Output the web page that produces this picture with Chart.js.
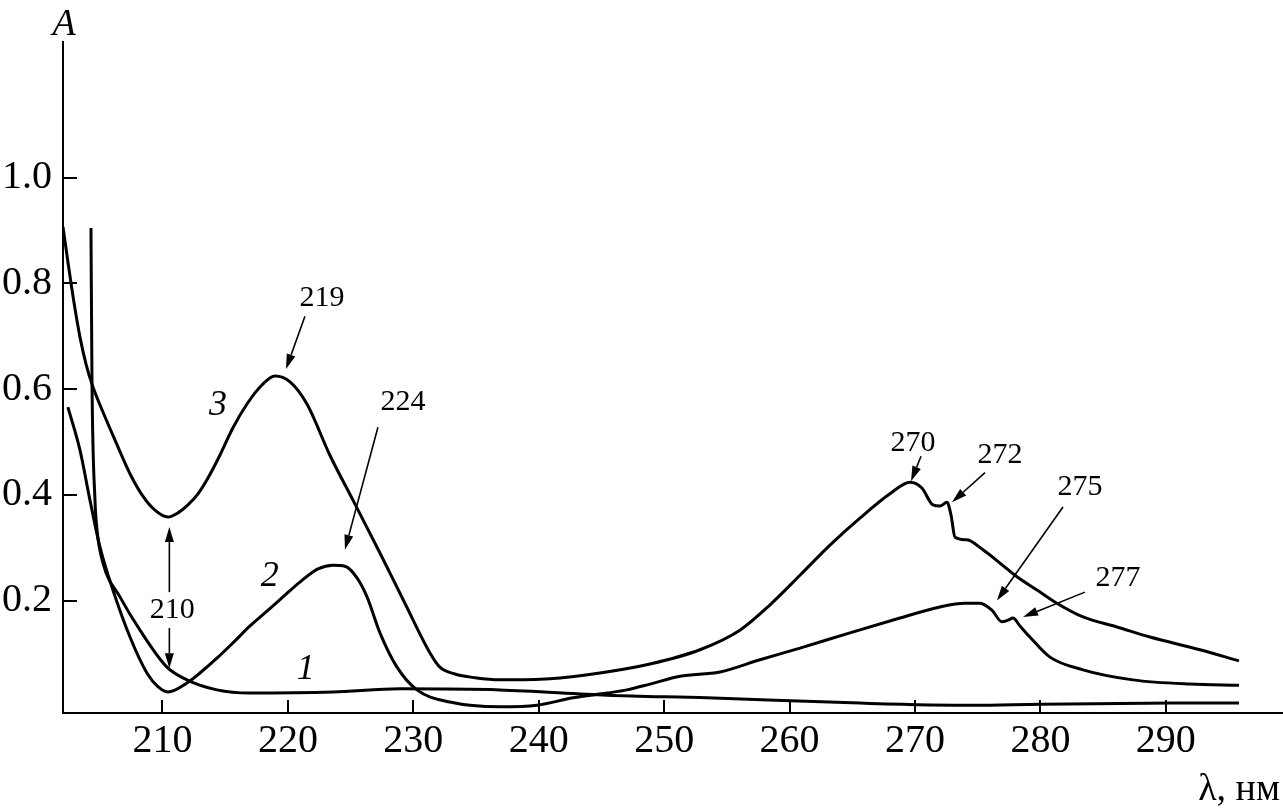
<!DOCTYPE html>
<html lang="ru">
<head>
<meta charset="utf-8" />
<title>A vs λ</title>
<style>
  html, body { margin: 0; padding: 0; background: #fff; }
  #chartBox { width: 1283px; height: 812px; }
</style>
</head>
<body>
<div id="chartBox"><canvas id="myChart" width="1283" height="812"></canvas></div>
<script src="https://cdn.jsdelivr.net/npm/chart.js"></script>
<script>
// curve 1
const wl1 = [204.30, 204.38, 204.62, 204.78, 205.26, 206.61, 208.21, 210.36, 211.95, 214.34, 216.98, 223.60, 228.94, 236.91, 245.44, 253.41, 265.61, 274.62, 279.96, 290.56, 295.83];
const abs1 = [0.905, 0.617, 0.390, 0.334, 0.271, 0.207, 0.144, 0.074, 0.050, 0.031, 0.025, 0.027, 0.033, 0.031, 0.021, 0.016, 0.006, 0.002, 0.004, 0.006, 0.006];

// curve 2
const wl2 = [202.46, 203.42, 204.22, 205.02, 206.05, 207.41, 208.76, 209.64, 210.44, 211.95, 212.99, 214.34, 215.62, 216.98, 218.33, 219.61, 220.96, 222.40, 223.60, 224.55, 225.51, 226.31, 227.34, 228.70, 230.29, 232.92, 236.91, 239.86, 242.73, 245.44, 247.03, 248.87, 251.26, 254.45, 257.64, 260.83, 264.81, 268.80, 271.99, 273.98, 275.18, 276.13, 276.93, 277.41, 277.81, 278.37, 279.16, 280.76, 283.39, 287.37, 291.92, 295.83];
const abs2 = [0.566, 0.485, 0.390, 0.301, 0.220, 0.131, 0.063, 0.037, 0.027, 0.044, 0.063, 0.091, 0.120, 0.152, 0.180, 0.207, 0.235, 0.260, 0.267, 0.265, 0.243, 0.207, 0.139, 0.074, 0.031, 0.008, -0.001, 0.002, 0.016, 0.025, 0.031, 0.042, 0.057, 0.065, 0.088, 0.110, 0.139, 0.167, 0.188, 0.195, 0.195, 0.182, 0.160, 0.163, 0.167, 0.152, 0.131, 0.093, 0.069, 0.050, 0.042, 0.040];

// curve 3
const wl3 = [202.07, 202.46, 202.94, 203.42, 203.90, 204.46, 205.18, 206.21, 207.41, 208.37, 209.40, 210.44, 211.24, 212.03, 212.83, 213.63, 214.58, 215.62, 216.74, 217.93, 218.97, 220.17, 221.52, 223.35, 225.19, 227.34, 229.33, 231.33, 232.12, 233.32, 234.92, 236.91, 240.89, 244.88, 248.87, 252.85, 256.04, 258.44, 260.83, 263.22, 265.61, 268.00, 269.60, 270.55, 271.43, 271.99, 272.55, 272.87, 273.19, 274.14, 275.42, 276.77, 278.13, 279.72, 281.31, 283.39, 286.10, 288.73, 292.72, 295.83];
const abs3 = [0.907, 0.841, 0.765, 0.699, 0.648, 0.604, 0.561, 0.504, 0.440, 0.400, 0.371, 0.358, 0.366, 0.381, 0.402, 0.432, 0.475, 0.527, 0.572, 0.608, 0.625, 0.614, 0.572, 0.475, 0.390, 0.290, 0.195, 0.101, 0.074, 0.061, 0.054, 0.050, 0.052, 0.063, 0.080, 0.107, 0.144, 0.192, 0.248, 0.305, 0.356, 0.402, 0.424, 0.413, 0.381, 0.379, 0.386, 0.362, 0.320, 0.315, 0.296, 0.271, 0.245, 0.220, 0.195, 0.169, 0.150, 0.131, 0.107, 0.086];

const xTicks = [210, 220, 230, 240, 250, 260, 270, 280, 290];
const yTicks = [0.2, 0.4, 0.6, 0.8, 1.0];

// curve numbers: [text, wavelength, A]
const curveLabels = [
  ["1", 221.43, 0.069],
  ["2", 218.56, 0.245],
  ["3", 214.42, 0.570],
];

// band labels with arrows: [text, textX, textY, fromX, fromY, tipX, tipY]
const bandLabels = [
  ["219", 222.72, 0.772, 221.36, 0.738, 219.85, 0.638],
  ["224", 229.17, 0.576, 227.18, 0.528, 224.55, 0.296],
  ["270", 269.84, 0.498, 270.48, 0.473, 269.68, 0.426],
  ["272", 276.77, 0.475, 275.58, 0.442, 272.95, 0.386],
  ["275", 283.15, 0.415, 281.80, 0.377, 276.53, 0.200],
  ["277", 286.18, 0.243, 283.55, 0.216, 278.61, 0.169],
];
// "210" with arrows up to curve 3 and down to curve 1
const minLabel = ["210", 210.55, 0.182, 0.216, 0.339, 0.148, 0.072];

const toPoints = (xs, ys) => xs.map((v, i) => ({ x: v, y: ys[i] }));

const line = (d) => ({
  data: d,
  borderColor: "#000",
  borderWidth: 3,
  pointRadius: 0,
  fill: false,
  cubicInterpolationMode: "monotone",
});

const data = {
  datasets: [line(toPoints(wl1, abs1)), line(toPoints(wl2, abs2)), line(toPoints(wl3, abs3))],
};

function arrow(ctx, x1, y1, x2, y2) {
  const ang = Math.atan2(y2 - y1, x2 - x1);
  const len = 15, half = 4.5;
  const bx = x2 - len * Math.cos(ang), by = y2 - len * Math.sin(ang);
  ctx.beginPath();
  ctx.moveTo(x1, y1);
  ctx.lineTo(bx, by);
  ctx.stroke();
  ctx.beginPath();
  ctx.moveTo(x2, y2);
  ctx.lineTo(bx + half * Math.sin(ang), by - half * Math.cos(ang));
  ctx.lineTo(bx - half * Math.sin(ang), by + half * Math.cos(ang));
  ctx.closePath();
  ctx.fill();
}

const decorations = {
  id: "decorations",
  afterDraw(chart) {
    const { ctx, chartArea, scales: { x, y } } = chart;
    ctx.save();
    ctx.strokeStyle = "#000";
    ctx.fillStyle = "#000";

    // inward tick marks
    ctx.lineWidth = 2;
    ctx.beginPath();
    xTicks.forEach((v) => {
      const px = Math.round(x.getPixelForValue(v));
      ctx.moveTo(px, chartArea.bottom);
      ctx.lineTo(px, chartArea.bottom - 13);
    });
    yTicks.forEach((v) => {
      const py = Math.round(y.getPixelForValue(v));
      ctx.moveTo(chartArea.left, py);
      ctx.lineTo(chartArea.left + 14, py);
    });
    ctx.stroke();

    // axis titles
    ctx.font = 'italic 38px "Liberation Serif"';
    ctx.textAlign = "center";
    ctx.textBaseline = "alphabetic";
    ctx.fillText("A", 64, 35);
    ctx.font = '38px "Liberation Serif"';
    ctx.textAlign = "right";
    ctx.fillText("λ, нм", 1280, 800);

    // curve numbers
    ctx.font = 'italic 36px "Liberation Serif"';
    ctx.textAlign = "center";
    ctx.textBaseline = "middle";
    curveLabels.forEach(([t, a, b]) => ctx.fillText(t, x.getPixelForValue(a), y.getPixelForValue(b)));

    // band labels + arrows
    ctx.font = '30px "Liberation Serif"';
    ctx.lineWidth = 1.6;
    bandLabels.forEach(([t, tx, ty, fx, fy, ax, ay]) => {
      ctx.fillText(t, x.getPixelForValue(tx), y.getPixelForValue(ty));
      arrow(ctx, x.getPixelForValue(fx), y.getPixelForValue(fy), x.getPixelForValue(ax), y.getPixelForValue(ay));
    });
    const [mt, mx, my, upFrom, upTo, dnFrom, dnTo] = minLabel;
    const mpx = x.getPixelForValue(mx);
    ctx.fillText(mt, mpx + 3, y.getPixelForValue(my));
    arrow(ctx, mpx, y.getPixelForValue(upFrom), mpx, y.getPixelForValue(upTo));
    arrow(ctx, mpx, y.getPixelForValue(dnFrom), mpx, y.getPixelForValue(dnTo));
    ctx.restore();
  },
};

const config = {
  type: "line",
  data,
  options: {
    responsive: false,
    animation: false,
    devicePixelRatio: 1,
    layout: { padding: { top: 42, right: 0, left: 0, bottom: 0 } },
    plugins: { legend: { display: false }, tooltip: { enabled: false } },
    scales: {
      x: {
        type: "linear",
        min: 202.07,
        max: 299.34,
        afterFit(scale) { scale.height = 99; },
        afterBuildTicks(scale) { scale.ticks = xTicks.map((v) => ({ value: v })); },
        grid: { display: false, drawTicks: false },
        border: { display: true, color: "#000", width: 2 },
        ticks: {
          autoSkip: false,
          maxRotation: 0,
          padding: 4,
          color: "#000",
          font: { family: "Liberation Serif", size: 40 },
          callback: (v) => String(v),
        },
      },
      y: {
        type: "linear",
        min: -0.0127,
        max: 1.2569,
        afterFit(scale) { scale.width = 63; },
        afterBuildTicks(scale) { scale.ticks = yTicks.map((v) => ({ value: v })); },
        grid: { display: false, drawTicks: false },
        border: { display: true, color: "#000", width: 2 },
        ticks: {
          autoSkip: false,
          padding: 11,
          color: "#000",
          font: { family: "Liberation Serif", size: 40 },
          callback: (v) => Number(v).toFixed(1),
        },
      },
    },
  },
  plugins: [decorations],
};

const myChart = new Chart(document.getElementById("myChart"), config);
</script>
</body>
</html>
